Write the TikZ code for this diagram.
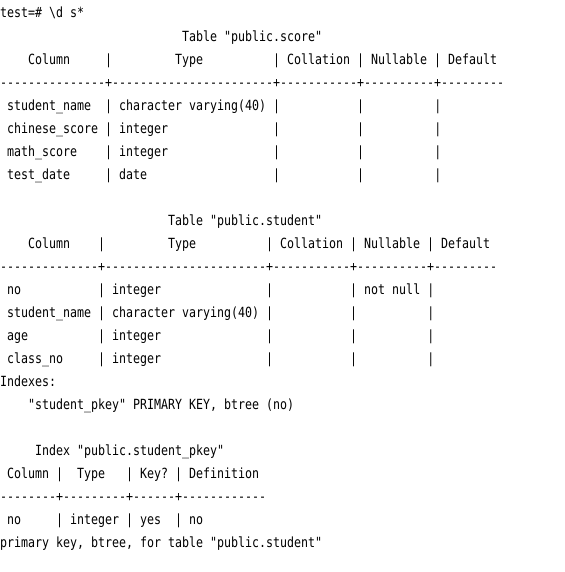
\documentclass[tikz,border=0pt]{standalone}
\usepackage{fontspec}
\setmonofont{DejaVu Sans Mono}[FakeStretch=0.8306]
\usepackage{tikz}
\newcommand\gap[1]{\hspace*{#1\fontdimen2\font}}
\tikzset{term/.style={anchor=base west,inner sep=0pt,font=\ttfamily\fontsize{14}{23}\selectfont}}
\begin{document}
\begin{tikzpicture}[x=1pt,y=1pt]
\fill[white](0,0) rectangle (564,-572);
\node[term] (cmd) at (0,-18) {test=\#~\textbackslash d~s*};
% table public.score
\node[term] (scoretitle) at (0,-41.04) {\gap{26}Table~"public.score"};
\node[term] (scorehead) at (0,-64.08) {\gap{4}Column\gap{5}|\gap{9}Type\gap{10}|~Collation~|~Nullable~|~Default};
\node[term] (scoresep) at (0,-87.12) {---------------+-----------------------+-----------+----------+---------};
\node[term] (score1) at (0,-110.16) {~student\_name\gap{2}|~character~varying(40)~|\gap{11}|\gap{10}|};
\node[term] (score2) at (0,-133.2) {~chinese\_score~|~integer\gap{15}|\gap{11}|\gap{10}|};
\node[term] (score3) at (0,-156.24) {~math\_score\gap{4}|~integer\gap{15}|\gap{11}|\gap{10}|};
\node[term] (score4) at (0,-179.28) {~test\_date\gap{5}|~date\gap{18}|\gap{11}|\gap{10}|};
% table public.student
\node[term] (stutitle) at (0,-225.36) {\gap{24}Table~"public.student"};
\node[term] (stuhead) at (0,-248.4) {\gap{4}Column\gap{4}|\gap{9}Type\gap{10}|~Collation~|~Nullable~|~Default};
\node[term] (stusep) at (0,-271.44) {--------------+-----------------------+-----------+----------+---------};
\node[term] (stu1) at (0,-294.48) {~no\gap{11}|~integer\gap{15}|\gap{11}|~not~null~|};
\node[term] (stu2) at (0,-317.52) {~student\_name~|~character~varying(40)~|\gap{11}|\gap{10}|};
\node[term] (stu3) at (0,-340.56) {~age\gap{10}|~integer\gap{15}|\gap{11}|\gap{10}|};
\node[term] (stu4) at (0,-363.6) {~class\_no\gap{5}|~integer\gap{15}|\gap{11}|\gap{10}|};
\node[term] (idx) at (0,-386.64) {Indexes:};
\node[term] (idx1) at (0,-409.68) {\gap{4}"student\_pkey"~PRIMARY~KEY,~btree~(no)};
% index public.student_pkey
\node[term] (pkeytitle) at (0,-455.76) {\gap{5}Index~"public.student\_pkey"};
\node[term] (pkeyhead) at (0,-478.8) {~Column~|\gap{2}Type\gap{3}|~Key?~|~Definition};
\node[term] (pkeysep) at (0,-501.84) {--------+---------+------+------------};
\node[term] (pkey1) at (0,-524.88) {~no\gap{5}|~integer~|~yes\gap{2}|~no};
\node[term] (pkeyfoot) at (0,-547.92) {primary~key,~btree,~for~table~"public.student"};
\end{tikzpicture}
\end{document}
